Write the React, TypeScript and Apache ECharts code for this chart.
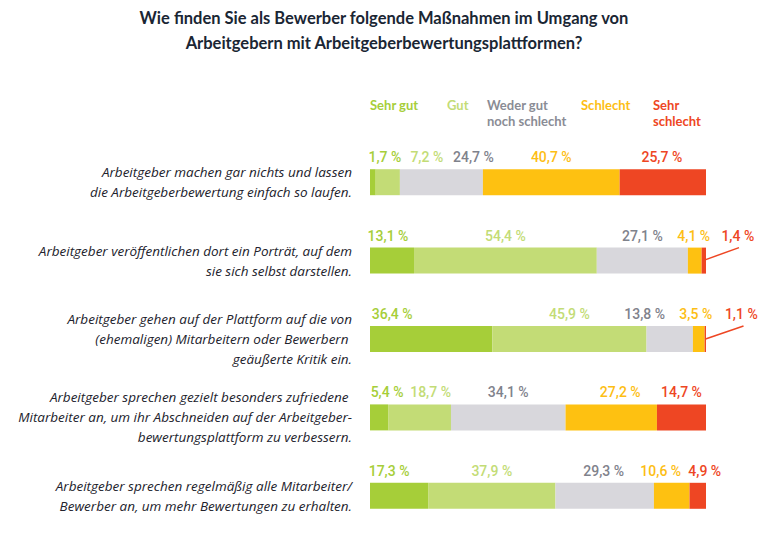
import React, { useEffect, useRef } from "react";
import * as echarts from "echarts";

const categories = [
  "Arbeitgeber machen gar nichts und lassen\ndie Arbeitgeberbewertung einfach so laufen.",
  "Arbeitgeber veröffentlichen dort ein Porträt, auf dem\nsie sich selbst darstellen.",
  "Arbeitgeber gehen auf der Plattform auf die von\n(ehemaligen) Mitarbeitern oder Bewerbern \ngeäußerte Kritik ein.",
  "Arbeitgeber sprechen gezielt besonders zufriedene \nMitarbeiter an, um ihr Abschneiden auf der Arbeitgeber-\nbewertungsplattform zu verbessern.",
  "Arbeitgeber sprechen regelmäßig alle Mitarbeiter/\nBewerber an, um mehr Bewertungen zu erhalten.",
];

const seriesNames = ["Sehr gut", "Gut", "Weder gut noch schlecht", "Schlecht", "Sehr schlecht"];
const legendLabels = ["Sehr gut", "Gut", "Weder gut\nnoch schlecht", "Schlecht", "Sehr\nschlecht"];

const sehrGut = [1.7, 13.1, 36.4, 5.4, 17.3];
const gut = [7.2, 54.4, 45.9, 18.7, 37.9];
const weder = [24.7, 27.1, 13.8, 34.1, 29.3];
const schlecht = [40.7, 4.1, 3.5, 27.2, 10.6];
const sehrSchlecht = [25.7, 1.4, 1.1, 14.7, 4.9];

const values = [sehrGut, gut, weder, schlecht, sehrSchlecht];

// styling
const barColors = ["#a6ce39", "#c3dc76", "#d8d7dc", "#fec111", "#ee4623"];
const textColors = ["#a6ce39", "#c3dc76", "#7f828c", "#fdbe14", "#ee4623"];
// horizontal label nudges in pixels, [row][series]
const labelShift = [
  [12, 39, 32, 0, -1],
  [-4, 0, 0, -1, 34],
  [-39, 0, -25, -3, 36],
  [8, 11, 0, 9, 0],
  [-10, 0, -1, -11, 7],
];

const fmt = (v: number) => v.toFixed(1).replace(".", ",") + " %";

export default function App() {
  const ref = useRef<HTMLDivElement>(null);
  useEffect(() => {
    if (!ref.current) return;
    const chart = echarts.init(ref.current, undefined, { renderer: "svg" });
    const legendX = [370, 447, 487, 581, 653];
    const baseGraphic: any[] = [
      {
        type: "text",
        x: 384,
        y: 5,
        style: {
          text: "Wie finden Sie als Bewerber folgende Maßnahmen im Umgang von\nArbeitgebern mit Arbeitgeberbewertungsplattformen?",
          textAlign: "center",
          textVerticalAlign: "top",
          font: "bold 16.5px Lato",
          lineHeight: 25,
          fill: "#1a2634",
        },
      },
      ...legendLabels.map((t, i) => ({
        type: "text",
        x: legendX[i],
        y: 97,
        style: {
          text: t,
          textAlign: "left",
          textVerticalAlign: "top",
          font: "bold 13px Lato",
          lineHeight: 16,
          fill: i === 2 ? "#8a8c95" : textColors[i],
        },
      })),
    ];
    const option: any = {
      animation: false,
      backgroundColor: "#ffffff",
      grid: { left: 370, width: 336, top: 143, height: 400, containLabel: false },
      xAxis: { type: "value", min: 0, max: 100, show: false },
      yAxis: {
        type: "category",
        inverse: true,
        data: categories,
        axisLine: { show: false },
        axisTick: { show: false },
        splitLine: { show: false },
        axisLabel: {
          margin: 18,
          align: "right",
          fontFamily: "Open Sans",
          fontStyle: "italic",
          fontSize: 13.5,
          lineHeight: 20,
          color: "#22222c",
        },
      },
      series: seriesNames.map((name, si) => ({
        name,
        type: "bar",
        stack: "total",
        barWidth: 26,
        itemStyle: { color: barColors[si] },
        label: {
          show: true,
          position: "top",
          distance: 5,
          fontFamily: "Roboto",
          fontWeight: 500,
          fontSize: 14,
          color: textColors[si],
          formatter: (p: any) => fmt(p.value),
        },
        labelLayout: (p: any) => ({ dx: labelShift[p.dataIndex][si] }),
        data: values[si],
      })),
      graphic: baseGraphic,
    };
    chart.setOption(option);

    // leader lines for tiny "Sehr schlecht" segments
    const lines: any[] = [];
    sehrSchlecht.forEach((v, row) => {
      if (v >= 2) return;
      const start = sehrGut[row] + gut[row] + weder[row] + schlecht[row];
      const p = chart.convertToPixel({ gridIndex: 0 }, [start + v / 2, row]) as number[];
      const barTop = p[1] - 13;
      const labelCx = p[0] + labelShift[row][4];
      lines.push({
        type: "line",
        shape: { x1: p[0] - 1, y1: p[1], x2: labelCx + 1, y2: barTop },
        style: { stroke: "#ee4623", lineWidth: 1.5 },
        z: 10,
      });
    });
    chart.setOption({ graphic: [...baseGraphic, ...lines] });
    return () => chart.dispose();
  }, []);
  return (
    <div
      ref={ref}
      style={{ position: "fixed", left: 0, top: 0, width: 782, height: 535, background: "#fff" }}
    />
  );
}
